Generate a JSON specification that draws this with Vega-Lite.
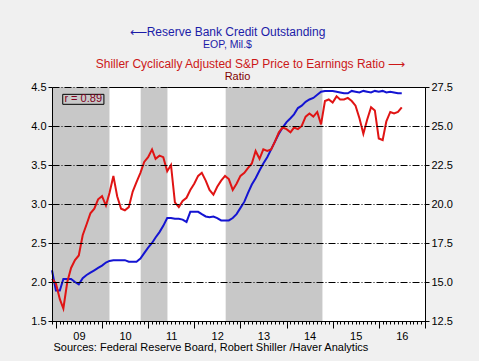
{
  "$schema": "https://vega.github.io/schema/vega-lite/v6.json",
  "width": 373,
  "height": 234,
  "autosize": {"type": "none"},
  "padding": {"left": 52, "top": 87, "right": 54, "bottom": 40},
  "background": "#f0f0f0",
  "config": {
    "font": "Liberation Sans",
    "view": {"stroke": "black", "strokeWidth": 1, "fill": "white"}
  },
  "title": {
    "text": "⟵Reserve Bank Credit Outstanding",
    "subtitle": "\u00a0\u00a0\u00a0\u00a0\u00a0\u00a0EOP, Mil.$",
    "frame": "group",
    "anchor": "middle",
    "dx": -11,
    "offset": 6,
    "color": "#1c1ca8",
    "subtitleColor": "#1c1ca8",
    "fontSize": 12,
    "subtitleFontSize": 10.5,
    "fontWeight": "normal",
    "subtitlePadding": 1,
    "font": "Liberation Sans",
    "subtitleFont": "Liberation Sans"
  },
  "datasets": {
    "series": [
      {"date": "2008-12-01", "rbc": 2.15, "cape": 15.2},
      {"date": "2009-01-01", "rbc": 1.89, "cape": 14.9},
      {"date": "2009-02-01", "rbc": 1.89, "cape": 13.9},
      {"date": "2009-03-01", "rbc": 2.04, "cape": 13.3},
      {"date": "2009-04-01", "rbc": 2.04, "cape": 15.0},
      {"date": "2009-05-01", "rbc": 2.04, "cape": 15.9},
      {"date": "2009-06-01", "rbc": 2.00, "cape": 16.4},
      {"date": "2009-07-01", "rbc": 1.97, "cape": 16.7},
      {"date": "2009-08-01", "rbc": 2.05, "cape": 18.0},
      {"date": "2009-09-01", "rbc": 2.09, "cape": 18.7},
      {"date": "2009-10-01", "rbc": 2.12, "cape": 19.4},
      {"date": "2009-11-01", "rbc": 2.15, "cape": 19.7},
      {"date": "2009-12-01", "rbc": 2.18, "cape": 20.3},
      {"date": "2010-01-01", "rbc": 2.21, "cape": 20.5},
      {"date": "2010-02-01", "rbc": 2.25, "cape": 19.9},
      {"date": "2010-03-01", "rbc": 2.27, "cape": 20.7},
      {"date": "2010-04-01", "rbc": 2.28, "cape": 21.8},
      {"date": "2010-05-01", "rbc": 2.28, "cape": 20.5},
      {"date": "2010-06-01", "rbc": 2.28, "cape": 19.7},
      {"date": "2010-07-01", "rbc": 2.28, "cape": 19.6},
      {"date": "2010-08-01", "rbc": 2.26, "cape": 19.8},
      {"date": "2010-09-01", "rbc": 2.26, "cape": 20.8},
      {"date": "2010-10-01", "rbc": 2.26, "cape": 21.4},
      {"date": "2010-11-01", "rbc": 2.30, "cape": 22.0},
      {"date": "2010-12-01", "rbc": 2.37, "cape": 22.7},
      {"date": "2011-01-01", "rbc": 2.44, "cape": 23.0},
      {"date": "2011-02-01", "rbc": 2.50, "cape": 23.5},
      {"date": "2011-03-01", "rbc": 2.57, "cape": 22.9},
      {"date": "2011-04-01", "rbc": 2.64, "cape": 23.1},
      {"date": "2011-05-01", "rbc": 2.72, "cape": 23.0},
      {"date": "2011-06-01", "rbc": 2.82, "cape": 22.1},
      {"date": "2011-07-01", "rbc": 2.82, "cape": 22.5},
      {"date": "2011-08-01", "rbc": 2.81, "cape": 20.1},
      {"date": "2011-09-01", "rbc": 2.81, "cape": 19.8},
      {"date": "2011-10-01", "rbc": 2.80, "cape": 20.2},
      {"date": "2011-11-01", "rbc": 2.77, "cape": 20.4},
      {"date": "2011-12-01", "rbc": 2.90, "cape": 20.9},
      {"date": "2012-01-01", "rbc": 2.90, "cape": 21.3},
      {"date": "2012-02-01", "rbc": 2.90, "cape": 21.8},
      {"date": "2012-03-01", "rbc": 2.87, "cape": 22.0},
      {"date": "2012-04-01", "rbc": 2.84, "cape": 21.5},
      {"date": "2012-05-01", "rbc": 2.83, "cape": 20.9},
      {"date": "2012-06-01", "rbc": 2.84, "cape": 20.6},
      {"date": "2012-07-01", "rbc": 2.82, "cape": 21.1},
      {"date": "2012-08-01", "rbc": 2.79, "cape": 21.5},
      {"date": "2012-09-01", "rbc": 2.79, "cape": 21.8},
      {"date": "2012-10-01", "rbc": 2.79, "cape": 21.6},
      {"date": "2012-11-01", "rbc": 2.82, "cape": 20.9},
      {"date": "2012-12-01", "rbc": 2.87, "cape": 21.3},
      {"date": "2013-01-01", "rbc": 2.95, "cape": 21.8},
      {"date": "2013-02-01", "rbc": 3.03, "cape": 22.0},
      {"date": "2013-03-01", "rbc": 3.14, "cape": 22.3},
      {"date": "2013-04-01", "rbc": 3.25, "cape": 22.6},
      {"date": "2013-05-01", "rbc": 3.33, "cape": 23.4},
      {"date": "2013-06-01", "rbc": 3.43, "cape": 22.9},
      {"date": "2013-07-01", "rbc": 3.52, "cape": 23.5},
      {"date": "2013-08-01", "rbc": 3.60, "cape": 23.4},
      {"date": "2013-09-01", "rbc": 3.70, "cape": 23.5},
      {"date": "2013-10-01", "rbc": 3.80, "cape": 24.0},
      {"date": "2013-11-01", "rbc": 3.90, "cape": 24.6},
      {"date": "2013-12-01", "rbc": 3.98, "cape": 24.9},
      {"date": "2014-01-01", "rbc": 4.05, "cape": 24.8},
      {"date": "2014-02-01", "rbc": 4.10, "cape": 24.6},
      {"date": "2014-03-01", "rbc": 4.15, "cape": 24.9},
      {"date": "2014-04-01", "rbc": 4.23, "cape": 24.8},
      {"date": "2014-05-01", "rbc": 4.26, "cape": 25.0},
      {"date": "2014-06-01", "rbc": 4.31, "cape": 25.6},
      {"date": "2014-07-01", "rbc": 4.34, "cape": 25.8},
      {"date": "2014-08-01", "rbc": 4.36, "cape": 25.6},
      {"date": "2014-09-01", "rbc": 4.40, "cape": 25.9},
      {"date": "2014-10-01", "rbc": 4.44, "cape": 25.1},
      {"date": "2014-11-01", "rbc": 4.45, "cape": 26.6},
      {"date": "2014-12-01", "rbc": 4.45, "cape": 26.7},
      {"date": "2015-01-01", "rbc": 4.45, "cape": 26.5},
      {"date": "2015-02-01", "rbc": 4.44, "cape": 26.9},
      {"date": "2015-03-01", "rbc": 4.43, "cape": 26.7},
      {"date": "2015-04-01", "rbc": 4.42, "cape": 26.7},
      {"date": "2015-05-01", "rbc": 4.42, "cape": 26.8},
      {"date": "2015-06-01", "rbc": 4.45, "cape": 26.6},
      {"date": "2015-07-01", "rbc": 4.44, "cape": 26.3},
      {"date": "2015-08-01", "rbc": 4.43, "cape": 25.5},
      {"date": "2015-09-01", "rbc": 4.45, "cape": 24.5},
      {"date": "2015-10-01", "rbc": 4.44, "cape": 25.4},
      {"date": "2015-11-01", "rbc": 4.43, "cape": 26.2},
      {"date": "2015-12-01", "rbc": 4.45, "cape": 26.0},
      {"date": "2016-01-01", "rbc": 4.44, "cape": 24.2},
      {"date": "2016-02-01", "rbc": 4.45, "cape": 24.1},
      {"date": "2016-03-01", "rbc": 4.43, "cape": 25.3},
      {"date": "2016-04-01", "rbc": 4.44, "cape": 25.9},
      {"date": "2016-05-01", "rbc": 4.43, "cape": 25.8},
      {"date": "2016-06-01", "rbc": 4.42, "cape": 25.9},
      {"date": "2016-07-01", "rbc": 4.42, "cape": 26.2}
    ],
    "shade": [
      {"start": "2008-12-01", "end": "2010-03-01"},
      {"start": "2010-11-03", "end": "2011-06-03"},
      {"start": "2012-09-06", "end": "2014-10-12"}
    ],
    "note": [
      {"x1": "2009-02-24", "x2": "2010-01-16", "xm": "2009-08-05", "y1": 4.406, "y2": 4.278, "ym": 4.342, "label": "r = 0.89"}
    ]
  },
  "layer": [
    {
      "data": {"name": "shade"},
      "mark": {"type": "rect", "color": "#c8c8c8"},
      "encoding": {
        "x": {
          "field": "start", "type": "temporal",
          "scale": {"domain": ["2008-12-01", "2017-01-01"]},
          "axis": {
            "orient": "bottom", "zindex": 1,
            "title": "Sources:  Federal Reserve Board, Robert Shiller /Haver Analytics",
            "titleX": 1, "titleY": 26, "titleAlign": "left", "titleBaseline": "middle",
            "titleFontSize": 11, "titleFontWeight": "normal", "titleColor": "black",
            "domainColor": "black", "tickColor": "black",
            "tickCount": {"interval": "month", "step": 1},
            "tickSize": {"condition": {"test": "month(datum.value) == 0", "value": 7}, "value": 3},
            "labelExpr": "month(datum.value) == 0 && year(datum.value) < 2017 ? timeFormat(datum.value, '%y') : ''",
            "labelOffset": 23, "labelFontSize": 11, "labelColor": "black", "labelPadding": 2,
            "labelOverlap": false, "labelBound": false, "labelFlush": false, "grid": false
          }
        },
        "x2": {"field": "end"}
      }
    },
    {
      "data": {"name": "series"},
      "mark": {"type": "line", "color": "#1414d2", "strokeWidth": 2},
      "encoding": {
        "x": {"field": "date", "type": "temporal"},
        "y": {
          "field": "rbc", "type": "quantitative",
          "scale": {"domain": [1.5, 4.5], "nice": false, "zero": false},
          "axis": {
            "orient": "left", "zindex": 1,
            "values": [1.5, 2, 2.5, 3, 3.5, 4, 4.5], "format": ".1f",
            "labelOverlap": false,
            "grid": true, "gridColor": "black", "gridDash": [7, 2, 1, 2], "gridWidth": 1, "gridOpacity": 1,
            "domainColor": "black", "tickColor": "black", "tickSize": 4,
            "labelFontSize": 11, "labelColor": "black", "labelPadding": 2,
            "title": "Shiller Cyclically Adjusted S&P Price to Earnings Ratio ⟶",
            "titleX": 198, "titleY": -24, "titleAngle": 0, "titleAlign": "center", "titleBaseline": "middle",
            "titleColor": "#cc1818", "titleFontSize": 12, "titleFontWeight": "normal"
          }
        }
      }
    },
    {
      "data": {"name": "note"},
      "mark": {"type": "rect", "fillOpacity": 0, "stroke": "black", "strokeWidth": 1},
      "encoding": {
        "x": {"field": "x1", "type": "temporal"},
        "x2": {"field": "x2"},
        "y": {"field": "y1", "type": "quantitative", "axis": null, "scale": {"domain": [1.5, 4.5], "nice": false, "zero": false}},
        "y2": {"field": "y2"}
      }
    },
    {
      "data": {"name": "note"},
      "mark": {"type": "text", "color": "#800020", "fontSize": 11},
      "encoding": {
        "x": {"field": "xm", "type": "temporal"},
        "y": {"field": "ym", "type": "quantitative", "axis": null, "scale": {"domain": [1.5, 4.5], "nice": false, "zero": false}},
        "text": {"field": "label"}
      }
    },
    {
      "data": {"name": "series"},
      "mark": {"type": "line", "color": "#e01414", "strokeWidth": 2},
      "encoding": {
        "x": {"field": "date", "type": "temporal"},
        "y": {
          "field": "cape", "type": "quantitative",
          "scale": {"domain": [12.5, 27.5], "nice": false, "zero": false},
          "axis": {
            "orient": "right",
            "values": [12.5, 15, 17.5, 20, 22.5, 25, 27.5], "format": ".1f", "grid": false,
            "labelOverlap": false,
            "domainColor": "black", "tickColor": "black", "tickSize": 4,
            "labelFontSize": 11, "labelColor": "black", "labelPadding": 2,
            "title": "Ratio",
            "titleX": -188, "titleY": -11, "titleAngle": 0, "titleAlign": "center", "titleBaseline": "middle",
            "titleColor": "#800000", "titleFontSize": 11, "titleFontWeight": "normal"
          }
        }
      }
    }
  ],
  "resolve": {"scale": {"y": "independent"}}
}
